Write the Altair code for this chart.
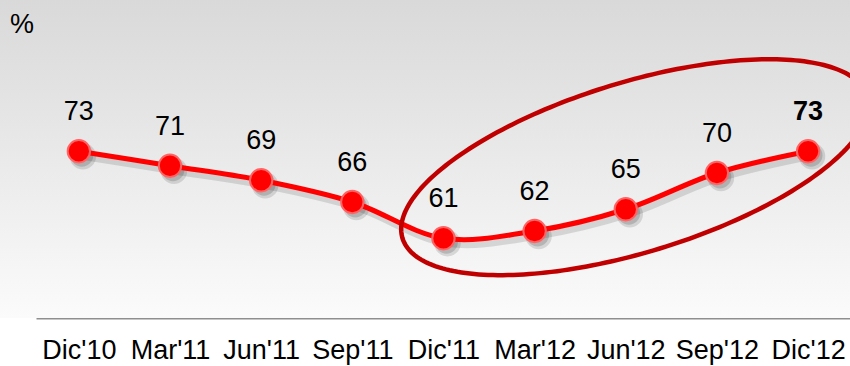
import altair as alt
import numpy as np
import pandas as pd

# Quarterly series (percent)
periods = ["Dic'10", "Mar'11", "Jun'11", "Sep'11", "Dic'11", "Mar'12", "Jun'12", "Sep'12", "Dic'12"]
values = [73, 71, 69, 66, 61, 62, 65, 70, 73]
bold_flags = [False, False, False, False, False, False, False, False, True]

W, H = 814, 290
X_DOMAIN = [-0.47, 8.46]
Y_DOMAIN = [50, 90]

# Highlight ring around the last five quarters: centre in data units,
# semi-axes in pixels, tilt in degrees (counter-clockwise)
ring_center = (6.1, 70.8)
ring_axes = (243, 85)
ring_tilt = 17

df = pd.DataFrame({
    "idx": list(range(len(periods))),
    "period": periods,
    "value": values,
    "bold": bold_flags,
})

# Outline of the ring, converted from pixel offsets back to data units
px_per_x = W / (X_DOMAIN[1] - X_DOMAIN[0])
px_per_y = H / (Y_DOMAIN[1] - Y_DOMAIN[0])
t = np.linspace(0, 2 * np.pi, 241)
phi = np.deg2rad(ring_tilt)
a, b = ring_axes
dx = a * np.cos(t) * np.cos(phi) - b * np.sin(t) * np.sin(phi)
dy_up = a * np.cos(t) * np.sin(phi) + b * np.sin(t) * np.cos(phi)
ring_df = pd.DataFrame({
    "order": np.arange(len(t)),
    "idx": ring_center[0] + dx / px_per_x,
    "value": ring_center[1] + dy_up / px_per_y,
})

label_map = "{" + ",".join(f"'{i}':\"{p}\"" for i, p in enumerate(periods)) + "}"

x_enc = alt.X(
    "idx:Q",
    scale=alt.Scale(domain=X_DOMAIN, nice=False, zero=False),
    axis=alt.Axis(
        values=list(range(len(periods))),
        labelExpr=f"{label_map}[toString(datum.value)]",
        title=None,
        ticks=False,
        grid=False,
        domainColor="#8f8f8f",
        domainWidth=2,
        labelFontSize=27,
        labelFont="Liberation Sans",
        labelColor="#000000",
        labelPadding=19,
        labelFlush=False,
        labelOverlap=False,
    ),
)
y_enc = alt.Y(
    "value:Q",
    scale=alt.Scale(domain=Y_DOMAIN, nice=False, zero=False),
    axis=None,
)

base = alt.Chart(df).encode(x=x_enc, y=y_enc)

# Background gradient panel
bg = alt.Chart(pd.DataFrame({"k": [0]})).mark_rect(
    fill=alt.Gradient(
        gradient="linear",
        stops=[
            alt.GradientStop(color="#d9d9d9", offset=0),
            alt.GradientStop(color="#e8e8e8", offset=0.45),
            alt.GradientStop(color="#fbfbfb", offset=1),
        ],
        x1=0, x2=0, y1=0, y2=1,
    ),
    clip=False,
).encode(
    x=alt.value(-36), x2=alt.value(W), y=alt.value(-28), y2=alt.value(H)
)

# Soft drop shadows
line_shadow = base.mark_line(
    interpolate="catmull-rom", color="#000000", opacity=0.12, strokeWidth=7,
    xOffset=3, yOffset=5,
)
dot_shadow1 = base.mark_point(
    filled=True, color="#000000", opacity=0.12, size=700, xOffset=4, yOffset=5,
)
dot_shadow2 = base.mark_point(
    filled=True, color="#000000", opacity=0.15, size=520, xOffset=3, yOffset=4,
)

line = base.mark_line(interpolate="catmull-rom", color="#ff0000", strokeWidth=5)
dots = base.mark_point(
    filled=True, size=500, fill="#ff0000", stroke="#ff6464", strokeWidth=2, opacity=1,
)

label_style = dict(
    dy=-31, baseline="alphabetic", align="center", fontSize=27,
    font="Liberation Sans", color="#000000",
)
labels = base.mark_text(**label_style, fontWeight="normal").encode(
    text="value:Q"
).transform_filter("!datum.bold")
labels_bold = base.mark_text(**label_style, fontWeight="bold").encode(
    text="value:Q"
).transform_filter("datum.bold")

ring = alt.Chart(ring_df).mark_line(
    color="#c00000", strokeWidth=4.5, clip=False, interpolate="linear",
).encode(x=x_enc, y=y_enc, order="order:Q")

unit = alt.Chart(pd.DataFrame({"t": ["%"]})).mark_text(
    fontSize=27, font="Liberation Sans", color="#000000",
    align="center", baseline="alphabetic",
).encode(text="t:N", x=alt.value(-14), y=alt.value(5))

chart = alt.layer(
    bg, line_shadow, dot_shadow1, dot_shadow2, line, dots, labels, labels_bold, ring, unit
).properties(
    width=W, height=H,
    padding={"left": 36, "right": 0, "top": 28, "bottom": 48},
    autosize=alt.AutoSizeParams(type="none"),
    background="#ffffff",
).configure_view(stroke=None)

chart.save("out.html", embed_options={"renderer": "svg", "actions": False})
